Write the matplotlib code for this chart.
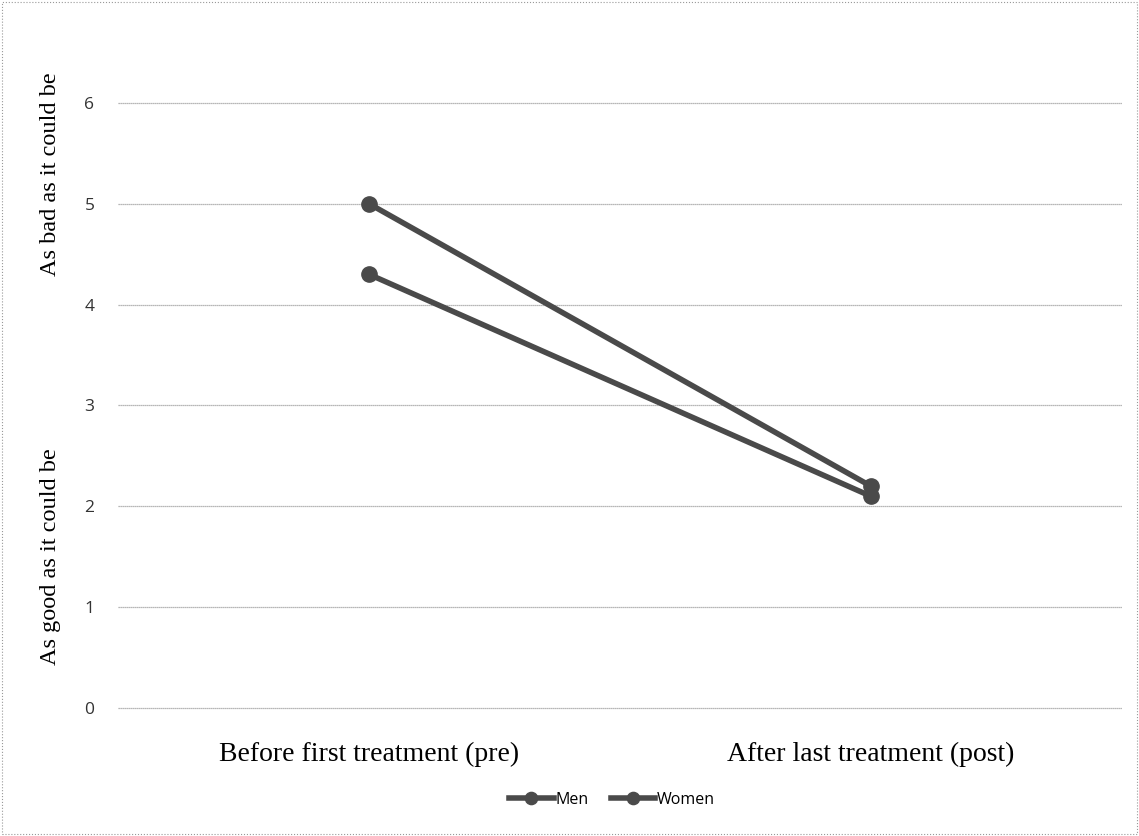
import matplotlib.pyplot as plt
from matplotlib.patches import Rectangle

# data
phases = ['Before first treatment (pre)', 'After last treatment (post)']
men = [4.3, 2.1]
women = [5.0, 2.2]
yticks = [0, 1, 2, 3, 4, 5, 6]

serif = ['Liberation Serif', 'DejaVu Serif']
sans = ['Open Sans', 'DejaVu Sans']

fig = plt.figure(figsize=(11.39, 8.36), dpi=100)
ax = fig.add_axes([0.1036, 0.153, 0.8814, 0.724])

x = range(len(phases))
ax.plot(x, men, color='#4a4a4a', lw=4, marker='o', ms=11, label='Men')
ax.plot(x, women, color='#4a4a4a', lw=4, marker='o', ms=11, label='Women')

ax.set_xlim(-0.5, 1.5)
ax.set_ylim(0, 6)
ax.set_yticks(yticks)
ax.set_yticklabels([str(v) for v in yticks], family=sans, fontsize=12.5, color='#333333')
ax.set_xticks(list(x))
ax.set_xticklabels(phases, family=serif, fontsize=20)
ax.tick_params(axis='both', length=0)
ax.tick_params(axis='x', pad=24)
ax.tick_params(axis='y', pad=17)
ax.grid(axis='y', color='#a0a0a0', lw=0.9, ls=(0, (1, 0.6)))
for g in ax.get_ygridlines():
    g.set_clip_on(False)
ax.set_axisbelow(True)
for s in ax.spines.values():
    s.set_visible(False)

fig.text(51 / 1139, 1 - 174 / 836, 'As bad as it could be', rotation=90, ha='center', va='center',
         family=serif, fontsize=17.5)
fig.text(51 / 1139, 1 - 557 / 836, 'As good as it could be', rotation=90, ha='center', va='center',
         family=serif, fontsize=17.5)

leg = fig.legend(loc='center', bbox_to_anchor=(612 / 1139, 1 - 800 / 836), ncol=2, frameon=False,
                 prop={'family': sans, 'size': 11.5}, handlelength=2.8, handletextpad=0.1,
                 columnspacing=1.4, markerscale=0.8)

fig.patches.append(Rectangle((0.002, 0.002), 0.996, 0.996, transform=fig.transFigure,
                             fill=False, ec='#999999', lw=0.8, ls=':'))

plt.savefig('out.png')
